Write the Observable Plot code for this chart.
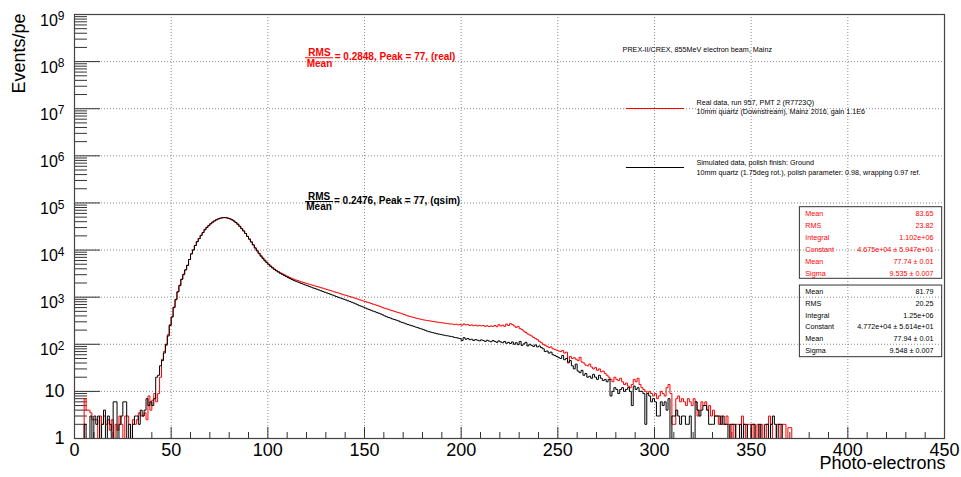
<!DOCTYPE html>
<html>
<head>
<meta charset="utf-8">
<script src="https://cdn.jsdelivr.net/npm/d3@7"></script>
<script src="https://cdn.jsdelivr.net/npm/@observablehq/plot@0.6"></script>
<style>
  html, body { margin: 0; padding: 0; background: #fff; }
  #chart svg { display: block; }
</style>
</head>
<body>
<div id="chart"></div>
<script>
// ---------------- data ----------------
const binStart = 5; // first filled bin (photo-electrons), bins are 1 pe wide

// Real data, run 957 (red), bins 5..370
const realCounts = [
  7, 4, 4, 3.5, 2.5, 2.5, 2.5, 1, 3, 2,
  3, 2, 2.5, 1.5, 2.5, 1, 2, 1.5, 3, 2,
  1, 3, 3, 2, 1, 2.5, 2, 2.5, 3.5, 3,
  3, 3.5, 2.5, 8, 4, 6.5, 9, 6, 9, 20,
  48, 70, 95, 160, 260, 380, 620, 880, 1300, 1800,
  2400, 3100, 3800, 4800, 6300, 8300, 10200, 12500, 15200, 17500,
  20500, 23500, 27500, 30500, 33500, 36500, 39500, 42000, 44000, 46000,
  47500, 48500, 48800, 48500, 47500, 46000, 43800, 41200, 38200, 35000,
  31800, 28500, 25500, 22500, 19500, 17200, 15000, 13000, 11200, 9800,
  8600, 7600, 6800, 6100, 5500, 5000, 4600, 4250, 3950, 3700,
  3500, 3300, 3150, 3000, 2850, 2720, 2600, 2500, 2400, 2320,
  2250, 2180, 2110, 2050, 1990, 1930, 1880, 1830, 1780, 1730,
  1680, 1640, 1590, 1550, 1500, 1460, 1420, 1380, 1340, 1300,
  1260, 1230, 1190, 1150, 1120, 1090, 1060, 1030, 1000, 970,
  940, 910, 880, 860, 830, 810, 780, 760, 735, 710,
  690, 670, 650, 625, 600, 580, 565, 550, 530, 515,
  500, 485, 470, 460, 445, 430, 415, 400, 390, 380,
  370, 360, 352, 345, 338, 330, 325, 320, 315, 310,
  305, 300, 296, 292, 288, 284, 280, 276, 272, 270,
  268, 262, 266, 258, 262, 255, 270, 258, 262, 250,
  258, 248, 255, 245, 252, 246, 250, 240, 248, 238,
  245, 240, 250, 236, 260, 245, 255, 240, 268, 250,
  275, 262, 245, 228, 240, 215, 205, 190, 178, 165,
  158, 150, 140, 132, 125, 115, 108, 100, 95, 90,
  85, 88, 80, 78, 75, 72, 70, 74, 65, 68,
  40, 55, 50, 52, 48, 45, 53, 42, 40, 36,
  35, 38, 33, 30, 32, 28, 30, 26, 27, 24,
  22, 20, 18, 16, 20, 18, 17, 19, 16, 14,
  15, 13, 12, 14, 18, 16, 19, 14, 12, 11,
  10, 9, 10, 9, 8, 9, 7, 8, 10, 9,
  8, 12, 14, 9, 2, 2, 7, 8, 6, 7,
  6, 5, 7, 6, 5, 7, 6, 3, 4, 6,
  5, 6, 4, 5, 3, 4, 3, 3, 2, 3,
  2, 2, 3, 2, 1, 2, 1, 2, 2, 1,
  3, 2, 1, 2, 2, 1, 2, 1, 2, 1,
  2, 1, 1, 2, 3, 2, 0, 1, 2, 2,
  1, 2, 2, 1, 1.7, 1.7
];

// Simulated data, qsim (black), bins 5..366
const simCounts = [
  2, 0, 1, 3, 1, 3, 2, 3, 1, 2,
  4, 1, 3, 2, 1, 6, 6, 1, 2, 3,
  6, 6, 1, 2, 0, 2, 3, 3, 2, 4,
  3, 4, 7, 5, 6, 5, 7, 20, 22, 35,
  45, 65, 100, 150, 250, 380, 600, 900, 1300, 1750,
  2400, 3000, 3800, 4700, 6300, 8300, 10000, 12500, 15000, 17500,
  20500, 23500, 27000, 30000, 33000, 36000, 39000, 41500, 44000, 46000,
  47500, 48500, 49000, 48500, 47500, 46000, 44000, 41500, 38500, 35500,
  32000, 28500, 25500, 22500, 19500, 17000, 14800, 12800, 11000, 9600,
  8400, 7400, 6600, 5900, 5400, 4900, 4500, 4150, 3850, 3600,
  3400, 3200, 3050, 2900, 2750, 2600, 2480, 2370, 2270, 2180,
  2100, 2020, 1950, 1880, 1810, 1750, 1690, 1630, 1570, 1520,
  1470, 1420, 1370, 1320, 1270, 1230, 1190, 1150, 1110, 1070,
  1030, 990, 960, 930, 900, 870, 840, 810, 780, 750,
  720, 690, 660, 640, 615, 590, 565, 545, 525, 505,
  490, 470, 455, 440, 420, 400, 385, 370, 360, 345,
  335, 325, 315, 300, 290, 282, 272, 262, 255, 248,
  240, 232, 226, 218, 212, 205, 198, 190, 185, 180,
  176, 172, 168, 164, 162, 158, 155, 152, 150, 147,
  145, 140, 138, 135, 132, 120, 138, 128, 133, 125,
  128, 120, 126, 122, 118, 124, 120, 115, 122, 117,
  113, 120, 115, 110, 118, 112, 108, 115, 105, 110,
  104, 112, 100, 108, 98, 115, 95, 102, 110, 92,
  100, 95, 90, 97, 88, 92, 85, 80, 70, 72,
  65, 68, 60, 58, 55, 52, 50, 58, 47, 50,
  42, 45, 35, 30, 38, 27, 25, 28, 22, 24,
  20, 21, 19, 23, 20, 18, 22, 19, 17, 18,
  16, 18, 8, 10, 12, 11, 9, 11, 12, 10,
  11, 12, 10, 5, 13, 11, 12, 10, 10, 9,
  2, 9, 8, 6, 7, 6, 3, 3, 6, 5,
  6, 4, 7, 0, 3, 3, 4, 3, 2, 3,
  3, 2, 2, 3, 0, 1, 6, 4, 3, 4,
  5, 5, 4, 2, 2, 2, 3, 3, 3, 2,
  3, 2, 2, 1, 2, 2, 2, 1, 0, 2,
  1, 2, 2, 0, 1, 2, 2, 0, 1, 2,
  0, 1, 2, 2, 1, 2, 3, 2, 1, 2,
  2, 0
];

const xTicks = [0, 50, 100, 150, 200, 250, 300, 350, 400, 450];
const yTicks = [1, 10, 1e2, 1e3, 1e4, 1e5, 1e6, 1e7, 1e8, 1e9];

const statLabels = ["Mean", "RMS", "Integral", "Constant", "Mean", "Sigma"];
const realStatValues = ["83.65", "23.82", "1.102e+06", "4.675e+04 \u00b1 5.947e+01", "77.74 \u00b1 0.01", "9.535 \u00b1 0.007"];
const simStatValues = ["81.79", "20.25", "1.25e+06", "4.772e+04 \u00b1 5.614e+01", "77.94 \u00b1 0.01", "9.548 \u00b1 0.007"];

const realNote = "= 0.2848, Peak = 77, (real)";
const simNote = "= 0.2476, Peak = 77, (qsim)";
const headerText = "PREX-II/CREX, 855MeV electron beam, Mainz";
const realLegend = ["Real data, run 957, PMT 2 (R7723Q)", "10mm quartz (Downstream), Mainz 2016, gain 1.1E6"];
const simLegend = ["Simulated data, polish finish: Ground", "10mm quartz (1.75deg rot.), polish parameter: 0.98, wrapping 0.97 ref."];
const xLabel = "Photo-electrons";
const yLabel = "Events/pe";

// ---------------- helpers ----------------
const FONT = "'Liberation Sans', Arial, Helvetica, sans-serif";
const RED = "#ff0000";

function steps(counts, start) {
  const pts = [{x: start, v: 1}];
  counts.forEach((c, i) => pts.push({x: start + i, v: Math.max(c, 1)}));
  pts.push({x: start + counts.length, v: 1});
  return pts;
}
const realSteps = steps(realCounts, binStart);
const simSteps = steps(simCounts, binStart);

const yMinor = [];
for (let k = 0; k < 9; k++) for (let m = 2; m <= 9; m++) yMinor.push(m * 10 ** k);
const xMinor = d3.range(0, 451, 10).filter(v => v % 50 !== 0);

const gridStyle = {stroke: "#8c8c8c", strokeDasharray: "1,2", strokeWidth: 1};
const tickColor = "#333";

const statY = (top) => (d, i) => 10 ** (top - 0.252 * i);

const chart = Plot.plot({
  width: 961,
  height: 477,
  marginLeft: 74,
  marginRight: 17,
  marginTop: 14,
  marginBottom: 39,
  style: {fontFamily: FONT, color: "#000", background: "#fff", overflow: "visible"},
  x: {domain: [0, 450]},
  y: {type: "log", domain: [1, 1e9]},
  marks: [
    // grid
    Plot.ruleX(xTicks.slice(1, -1), gridStyle),
    Plot.ruleY(yTicks.slice(1, -1), gridStyle),
    // ticks (ROOT style, inside the frame)
    Plot.ruleY(yTicks, {x1: 0, x2: 13.45, stroke: tickColor}),
    Plot.ruleY(yMinor, {x1: 0, x2: 6.72, stroke: tickColor}),
    Plot.ruleX(xTicks, {y1: 1, y2: 1.713, stroke: tickColor}),
    Plot.ruleX(xMinor, {y1: 1, y2: 1.341, stroke: tickColor}),
    // histograms
    Plot.line(realSteps, {x: "x", y: "v", curve: "step-after", stroke: RED, strokeWidth: 1}),
    Plot.line(simSteps, {x: "x", y: "v", curve: "step-after", stroke: "#000", strokeWidth: 1}),
    // frame
    Plot.frame({stroke: "#444", strokeWidth: 1.2}),
    // axes
    Plot.axisX(xTicks, {tickSize: 0, tickPadding: 4.5, fontSize: 18, label: null}),
    Plot.axisY(yTicks, {
      tickSize: 0, tickPadding: 10, fontSize: 18, label: null,
      tickFormat: d => d < 100 ? String(d) : "10^" + Math.round(Math.log10(d))
    }),
    Plot.text([xLabel], {frameAnchor: "bottom-right", textAnchor: "end", lineAnchor: "bottom", dx: 1, dy: 30, fontSize: 18}),
    Plot.text([yLabel], {frameAnchor: "top-left", rotate: -90, textAnchor: "end", lineAnchor: "bottom", dx: -50, dy: -1, fontSize: 18}),
    // RMS/Mean annotations
    Plot.ruleY([1.205e8], {x1: 119.5, x2: 134, stroke: RED, strokeWidth: 1}),
    Plot.text(["RMS"], {x: 126.7, y: 1.205e8, dy: -5.2, fontSize: 10, fontWeight: "bold", fill: RED}),
    Plot.text(["Mean"], {x: 126.7, y: 1.205e8, dy: 5.8, fontSize: 10, fontWeight: "bold", fill: RED}),
    Plot.text([realNote], {x: 134.6, y: 1.205e8, dy: -1, textAnchor: "start", fontSize: 10, fontWeight: "bold", fill: RED}),
    Plot.ruleY([1.07e5], {x1: 119.5, x2: 134, stroke: "#000", strokeWidth: 1}),
    Plot.text(["RMS"], {x: 126.5, y: 1.07e5, dy: -5.2, fontSize: 10, fontWeight: "bold", fill: "#000"}),
    Plot.text(["Mean"], {x: 126.5, y: 1.07e5, dy: 5.5, fontSize: 10, fontWeight: "bold", fill: "#000"}),
    Plot.text([simNote], {x: 134.2, y: 1.07e5, dy: -0.7, textAnchor: "start", fontSize: 10, fontWeight: "bold", fill: "#000"}),
    // header & legend
    Plot.text([headerText], {x: 283.5, y: 1.81e8, textAnchor: "start", fontSize: 7.2, fill: "#000"}),
    Plot.ruleY([1.01e7], {x1: 285.5, x2: 315.5, stroke: RED, strokeWidth: 1}),
    Plot.text(realLegend, {x: 321.7, y: (d, i) => 10 ** (7.132 - 0.191 * i), textAnchor: "start", fontSize: 7.2, fill: "#000"}),
    Plot.ruleY([5.65e5], {x1: 285.5, x2: 315.5, stroke: "#000", strokeWidth: 1}),
    Plot.text(simLegend, {x: 321.7, y: (d, i) => 10 ** (5.858 - 0.212 * i), textAnchor: "start", fontSize: 7.2, fill: "#000"}),
    // stat boxes
    Plot.rect([0], {x1: 375.2, x2: 448.8, y1: 10 ** 3.39, y2: 10 ** 4.91, fill: "none", stroke: "#333", strokeWidth: 1}),
    Plot.text(statLabels, {x: 378, y: statY(4.765), textAnchor: "start", fontSize: 7.2, fill: RED}),
    Plot.text(realStatValues, {x: 444.3, y: statY(4.765), textAnchor: "end", fontSize: 7.2, fill: RED}),
    Plot.rect([0], {x1: 375.2, x2: 448.8, y1: 10 ** 1.726, y2: 10 ** 3.247, fill: "none", stroke: "#333", strokeWidth: 1}),
    Plot.text(statLabels, {x: 378, y: statY(3.12), textAnchor: "start", fontSize: 7.2, fill: "#000"}),
    Plot.text(simStatValues, {x: 444.3, y: statY(3.12), textAnchor: "end", fontSize: 7.2, fill: "#000"})
  ]
});

// turn "10^n" tick labels into real superscripts
chart.querySelectorAll('g[aria-label="y-axis tick label"] text').forEach(t => {
  const s = t.textContent;
  if (s.includes("^")) {
    const [base, exp] = s.split("^");
    t.textContent = "";
    t.setAttribute("font-size", "16");
    t.style.fontSize = "16px";
    const b = document.createElementNS("http://www.w3.org/2000/svg", "tspan");
    b.setAttribute("dy", "6");
    b.textContent = base;
    const e = document.createElementNS("http://www.w3.org/2000/svg", "tspan");
    e.setAttribute("dy", "-5.5");
    e.setAttribute("font-size", "12");
    e.textContent = exp;
    t.appendChild(b);
    t.appendChild(e);
  }
});

document.getElementById("chart").appendChild(chart);
</script>
</body>
</html>
